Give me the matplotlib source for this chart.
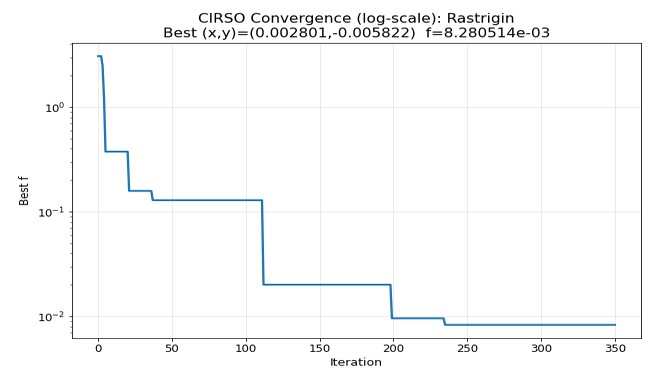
import numpy as np
import matplotlib
matplotlib.use("Agg")
import matplotlib.pyplot as plt
from PIL import Image

# Best objective value per iteration (piecewise-constant record of the best found so far)
start_values = [3.07, 3.07, 3.07, 2.5, 1.2]          # iterations 0-4
level_starts = [5, 21, 37, 112, 199, 235]             # first iteration of each plateau
level_values = [0.375, 0.158, 0.1288, 0.02005, 0.00957, 0.008280514]
n_iter = 351                                          # iterations 0..350

best_x, best_y, best_f = 0.002801, -0.005822, 8.280514e-03

# assemble the per-iteration series from the plateaus
bounds = level_starts + [n_iter]
history = list(start_values)
for v, a, b in zip(level_values, bounds[:-1], bounds[1:]):
    history += [v] * (b - a)
iters = np.arange(n_iter)

# drawn on a taller canvas, then resampled to the final 649x373 size
W, H_out = 649, 373
squash = 0.81
H = int(round(H_out / squash))

fig = plt.figure(figsize=(W / 72, H / 72), dpi=72)
ax = fig.add_axes([72.3 / W, 1 - 338.3 / H_out, (640.7 - 72.3) / W, (338.3 - 42.7) / H_out])
ax.plot(iters, history, color="#1f77b4", linewidth=2.3)
ax.set_yscale("log")
ax.grid(True, alpha=0.3)
ax.tick_params(labelsize=11.6)
ax.set_xlabel("Iteration", fontsize=12.5)
ax.set_ylabel("Best f", fontsize=12.5, labelpad=5)
ax.set_title("CIRSO Convergence (log-scale): Rastrigin\n"
             f"Best (x,y)=({best_x:.6f},{best_y:.6f})  f={best_f:.6e}",
             fontsize=15.3, pad=7)

fig.canvas.draw()
img = Image.fromarray(np.asarray(fig.canvas.buffer_rgba())).convert("RGB")
img.resize((W, H_out), Image.LANCZOS).save("out.png")
